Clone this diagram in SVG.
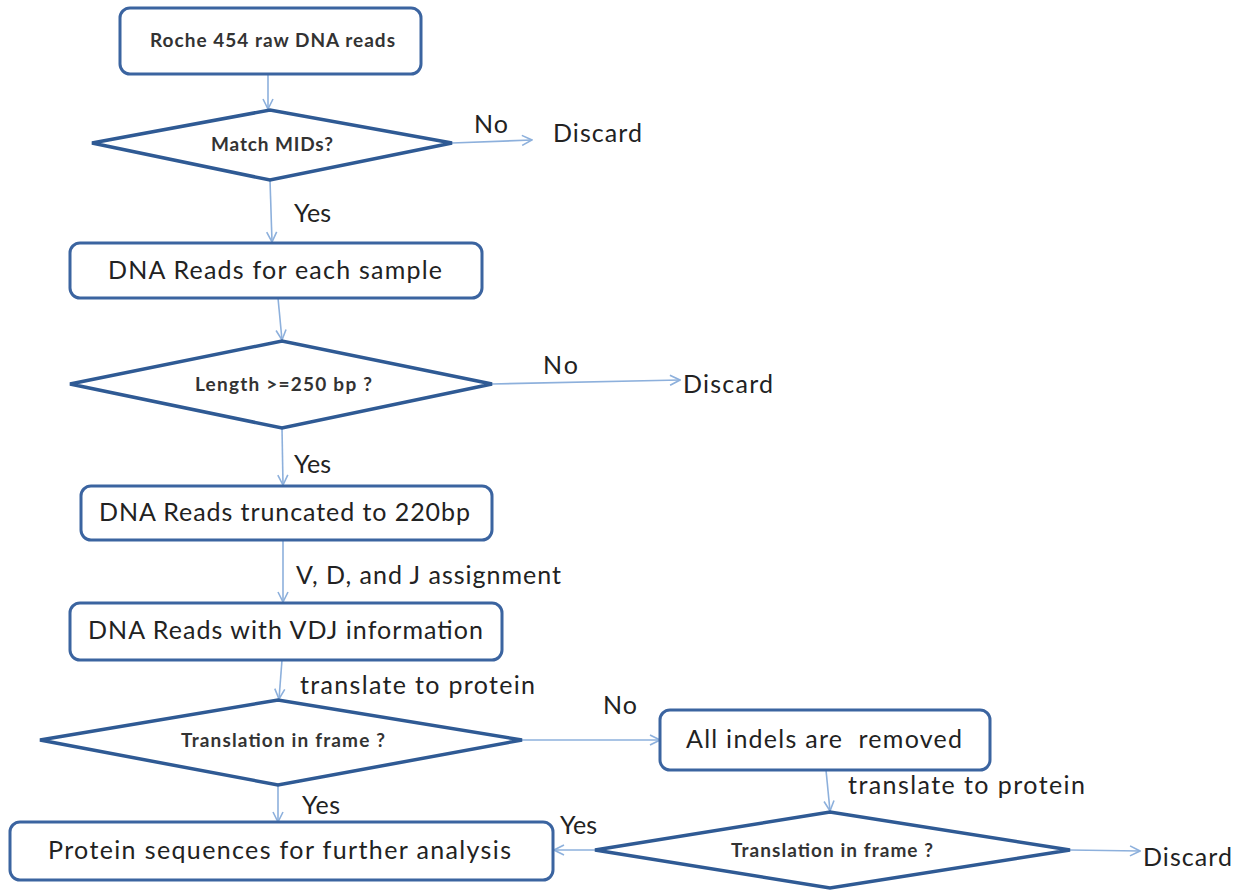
<svg xmlns="http://www.w3.org/2000/svg" width="1244" height="890" viewBox="0 0 1244 890">
<defs>
<style>
.box{fill:#fff;stroke:#3b64a0;stroke-width:3}
.dia{fill:#fff;stroke:#2f5a94;stroke-width:3.5;stroke-linejoin:miter}
.con{fill:none;stroke:#8db0dc;stroke-width:1.6}
.t{font-family:Lato,"Liberation Sans",sans-serif;font-size:25px;fill:#222}
.s{font-family:Lato,"Liberation Sans",sans-serif;font-size:19px;font-weight:bold;fill:#333}
.l{font-family:Lato,"Liberation Sans",sans-serif;font-size:25px;fill:#222}
</style>
<marker id="arr" viewBox="0 0 12 12" refX="11" refY="6" markerWidth="12" markerHeight="12" markerUnits="userSpaceOnUse" orient="auto">
<path d="M1,1 L11,6 L1,11" fill="none" stroke="#8db0dc" stroke-width="1.6"/>
</marker>
</defs>
<rect width="1244" height="890" fill="#fff"/>
<g id="connectors">
<line class="con" x1="268" y1="74" x2="268" y2="109" marker-end="url(#arr)"/>
<line class="con" x1="452" y1="143" x2="532" y2="140" marker-end="url(#arr)"/>
<line class="con" x1="270" y1="180" x2="272" y2="242" marker-end="url(#arr)"/>
<line class="con" x1="278" y1="298" x2="282" y2="340" marker-end="url(#arr)"/>
<line class="con" x1="492" y1="384" x2="680" y2="380" marker-end="url(#arr)"/>
<line class="con" x1="282" y1="428" x2="283" y2="485" marker-end="url(#arr)"/>
<line class="con" x1="283" y1="540" x2="283" y2="602" marker-end="url(#arr)"/>
<line class="con" x1="282" y1="660" x2="279" y2="699" marker-end="url(#arr)"/>
<line class="con" x1="522" y1="740" x2="660" y2="740" marker-end="url(#arr)"/>
<line class="con" x1="278" y1="785" x2="278" y2="822" marker-end="url(#arr)"/>
<line class="con" x1="826" y1="770" x2="830" y2="811" marker-end="url(#arr)"/>
<line class="con" x1="1070" y1="850" x2="1140" y2="851" marker-end="url(#arr)"/>
<line class="con" x1="595" y1="850" x2="554" y2="850" marker-end="url(#arr)"/>
<text class="l" x="474" y="133" textLength="34">No</text>
<text class="l" x="294" y="222" textLength="37">Yes</text>
<text class="l" x="543" y="374" textLength="35">No</text>
<text class="l" x="294" y="473" textLength="37">Yes</text>
<text class="l" x="296" y="584" textLength="265">V, D, and J assignment</text>
<text class="l" x="300" y="694" textLength="235">translate to protein</text>
<text class="l" x="603" y="714" textLength="34">No</text>
<text class="l" x="302" y="814" textLength="38">Yes</text>
<text class="l" x="848" y="794" textLength="237">translate to protein</text>
<text class="l" x="560" y="834" textLength="37">Yes</text>
<text class="l" x="553" y="142" textLength="89">Discard</text>
<text class="l" x="683" y="393" textLength="90">Discard</text>
<text class="l" x="1143" y="866" textLength="89">Discard</text>
</g>
<g id="n1"><rect class="box" x="120" y="8" width="301" height="66" rx="10"/><text class="s" x="150" y="47" textLength="245">Roche 454 raw DNA reads</text></g>
<g id="n2"><polygon class="dia" points="92,143 270,110 452,143 270,180"/><text class="s" x="211" y="151" textLength="122">Match MIDs?</text></g>
<g id="n3"><rect class="box" x="70" y="243" width="412" height="55" rx="10"/><text class="t" x="108" y="279" textLength="334">DNA Reads for each sample</text></g>
<g id="n4"><polygon class="dia" points="70,384 282,341 492,384 282,428"/><text class="s" x="195" y="391" textLength="177">Length &gt;=250 bp ?</text></g>
<g id="n5"><rect class="box" x="81" y="486" width="411" height="54" rx="10"/><text class="t" x="99" y="521" textLength="371">DNA Reads truncated to 220bp</text></g>
<g id="n6"><rect class="box" x="70" y="603" width="432" height="57" rx="10"/><text class="t" x="88" y="639" textLength="395">DNA Reads with VDJ information</text></g>
<g id="n7"><polygon class="dia" points="40,740 278,700 522,740 278,785"/><text class="s" x="181" y="747" textLength="204">Translation in frame ?</text></g>
<g id="n8"><rect class="box" x="660" y="710" width="330" height="60" rx="10"/><text class="t" x="686" y="748" textLength="276" xml:space="preserve">All indels are  removed</text></g>
<g id="n9"><polygon class="dia" points="595,850 830,812 1070,850 830,888"/><text class="s" x="731" y="857" textLength="202">Translation in frame ?</text></g>
<g id="n10"><rect class="box" x="10" y="822" width="543" height="58" rx="10"/><text class="t" x="48" y="859" textLength="463">Protein sequences for further analysis</text></g>
</svg>
